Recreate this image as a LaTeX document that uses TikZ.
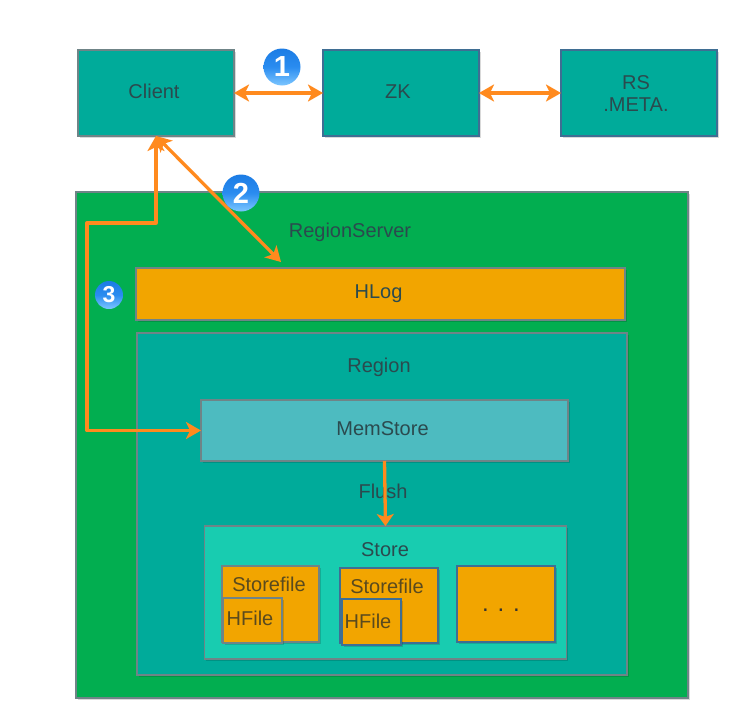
\documentclass[tikz,border=0pt]{standalone}
\usepackage{fontspec}
\setmainfont{Liberation Sans}
\usetikzlibrary{arrows.meta,shadows}
\definecolor{tealbox}{HTML}{00AB9A}
\definecolor{greenbox}{HTML}{02AE50}
\definecolor{orangebox}{HTML}{F2A500}
\definecolor{membox}{HTML}{4DBBC0}
\definecolor{storebox}{HTML}{18CCB0}
\definecolor{edgegray}{HTML}{6F8487}
\definecolor{edgeblue}{HTML}{3F6E93}
\definecolor{arrowc}{HTML}{FF8A1E}
\definecolor{inkc}{HTML}{2B4A4E}
\definecolor{inkb}{HTML}{5A4A1E}
\definecolor{balltop}{HTML}{1C7CE4}
\definecolor{ballmid}{HTML}{2A8CF0}
\definecolor{ballbot}{HTML}{7CC6FF}
\tikzset{
  box/.style={draw=edgegray,line width=1.1pt,inner sep=0pt,outer sep=0pt,
    drop shadow={shadow xshift=1.5pt,shadow yshift=-1.5pt,opacity=.15,fill=black}},
  tealnode/.style={box,fill=tealbox},
  orangenode/.style={box,fill=orangebox},
  lbl/.style={inner sep=0pt,text=inkc,align=center,font=\fontsize{20}{22}\selectfont},
  lblo/.style={lbl,text=inkb},
  flow/.style={draw=arrowc,line width=3.3pt,line join=round,{Stealth[length=15pt,width=17pt,inset=4pt]}-{Stealth[length=15pt,width=17pt,inset=4pt]}},
  down/.style={draw=arrowc,line width=3.3pt,-{Stealth[length=12pt,width=17pt,inset=3pt]}},
  badge/.style={circle,inner sep=0pt,outer sep=0pt,text=white,
    top color=balltop,bottom color=ballbot,middle color=ballmid}
}
\begin{document}
\begin{tikzpicture}[x=1pt,y=-1pt]
\useasboundingbox (0,0) rectangle (738,707);
\fill[white] (0,0) rectangle (738,707);

\node[tealnode,minimum width=156pt,minimum height=86pt] (client) at (156,93) {};
\node[tealnode,draw=edgeblue,minimum width=156pt,minimum height=86pt] (zk) at (401,93) {};
\node[tealnode,draw=edgeblue,minimum width=156pt,minimum height=86pt] (rs) at (639,93) {};

\node[box,fill=greenbox,minimum width=612pt,minimum height=506pt] (server) at (382,445) {};
\node[orangenode,minimum width=489pt,minimum height=52pt] (hlog) at (380.5,294) {};
\node[tealnode,minimum width=490pt,minimum height=342pt] (region) at (382,504) {};
\node[box,fill=membox,minimum width=367pt,minimum height=61pt] (mem) at (384.5,430.5) {};
\node[box,fill=storebox,minimum width=362pt,minimum height=133pt] (store) at (385.5,592.5) {};

\node[orangenode,minimum width=97pt,minimum height=76pt] (sf1) at (270.5,604) {};
\node[orangenode,minimum width=59pt,minimum height=45pt] (hf1) at (252.5,620.5) {};
\node[orangenode,draw=edgeblue,minimum width=98pt,minimum height=75pt] (sf2) at (389,605.5) {};
\node[orangenode,draw=edgeblue,minimum width=59pt,minimum height=46pt] (hf2) at (371.5,622) {};
\node[orangenode,draw=edgeblue,minimum width=98pt,minimum height=76pt] (more) at (506,604) {};

\node[lbl] (tclient) at (154,91.5) {Client};
\node[lbl] (tzk) at (398,92) {ZK};
\node[lbl] (trs) at (636,94) {RS\\.META.};
\node[lbl] (thlog) at (378.5,294) {HLog};
\node[lbl] (tmem) at (382.5,428.5) {MemStore};
\node[lbl] (tserver) at (350,232.5) {RegionServer};
\node[lbl] (tregion) at (379,367.5) {Region};
\node[lbl] (tflush) at (383,491) {Flush};
\node[lbl] (tstore) at (385,550) {Store};
\node[lblo] (tsf1) at (269,584.5) {Storefile};
\node[lblo] (tsf2) at (387,586.5) {Storefile};
\node[lblo] (thf1) at (250,618.5) {HFile};
\node[lblo] (thf2) at (368,621.5) {HFile};
\node[lbl,text=black!80] (tmore) at (501,610) {\fontsize{24}{24}\selectfont . . .};

\coordinate (hlogend) at (281,262);
\coordinate (bend1) at (156,223);
\coordinate (bend2) at (87,223);
\coordinate (bend3) at (87,430.5);

\draw[flow] (client) -- (zk);
\draw[flow] (zk) -- (rs);
\draw[flow] (client.south) -- (hlogend);
\draw[flow] (client.south) -- (bend1) -- (bend2) -- (bend3) -- (mem.west);
\draw[down] (mem.south) -- (store.north);

\node[badge,minimum size=37pt,font=\fontsize{29}{29}\selectfont\bfseries] (b1) at (282,67) {1};
\node[badge,minimum size=37pt,font=\fontsize{29}{29}\selectfont\bfseries] (b2) at (241,193) {2};
\node[badge,minimum size=28pt,font=\fontsize{23}{23}\selectfont\bfseries] (b3) at (109,295) {3};
\end{tikzpicture}
\end{document}
